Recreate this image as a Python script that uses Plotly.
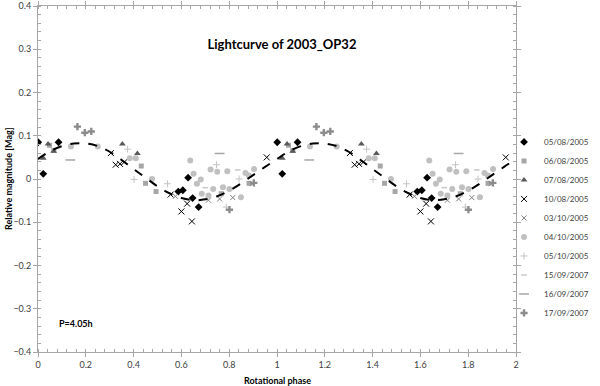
"""Lightcurve of 2003_OP32, folded over two rotational cycles."""

import plotly.graph_objects as go

# Fit curve (one cycle, phase 0..1)
fit_phase = [0.00, 0.05, 0.10, 0.15, 0.20, 0.25, 0.30, 0.35, 0.40, 0.45, 0.50,
             0.55, 0.60, 0.65, 0.70, 0.75, 0.80, 0.85, 0.90, 0.95, 1.00]
fit_mag = [0.046, 0.064, 0.076, 0.082, 0.082, 0.076, 0.063, 0.044, 0.023, 0.003, -0.017,
           -0.033, -0.044, -0.049, -0.047, -0.040, -0.027, -0.010, 0.009, 0.028, 0.046]

# Observations per night (phase 0..1, repeated for the second cycle)
d050805_phase = [0.001, 0.022, 0.086, 0.587, 0.606, 0.628, 0.647, 0.672]
d050805_mag = [0.085, 0.012, 0.085, -0.029, -0.026, 0.003, -0.044, -0.065]

d060805_phase = [0.048, 0.066, 0.432, 0.450, 0.494, 0.767, 0.883]
d060805_mag = [0.078, 0.066, 0.030, -0.010, -0.029, -0.034, -0.010]

d070805_phase = [0.022, 0.042, 0.066, 0.353, 0.416]
d070805_mag = [0.048, 0.081, 0.064, 0.081, 0.059]

d100805_phase = [0.305, 0.325, 0.343, 0.361, 0.555, 0.600, 0.624, 0.644, 0.957]
d100805_mag = [0.060, 0.033, 0.035, 0.039, -0.036, -0.075, -0.057, -0.098, 0.050]

d031005_phase = [0.575, 0.713, 0.760, 0.815, 0.896]
d031005_mag = [-0.040, -0.049, -0.046, -0.043, -0.011]

d041005_phase = [0.138, 0.250, 0.384, 0.409, 0.477, 0.637, 0.651, 0.665, 0.681, 0.685,
                 0.713, 0.722, 0.733, 0.750, 0.774, 0.792, 0.801, 0.849, 0.868, 0.882, 0.904]
d041005_mag = [0.075, 0.075, 0.048, 0.048, 0.000, 0.043, 0.012, -0.011, -0.001, -0.034,
               -0.038, 0.022, -0.023, 0.017, -0.019, 0.018, -0.023, -0.042, 0.014, 0.008, 0.023]

d051005_phase = [0.375, 0.402, 0.542, 0.747, 0.788, 0.841]
d051005_mag = [0.069, -0.001, -0.011, 0.033, -0.065, 0.000]

d150907_phase = [0.700, 0.836]
d150907_mag = [-0.020, 0.021]

d160907_phase = [0.135, 0.760]
d160907_mag = [0.044, 0.059]

d170907_phase = [0.165, 0.196, 0.223, 0.801, 0.903]
d170907_mag = [0.121, 0.107, 0.110, -0.071, -0.009]

SERIES = [
    ("05/08/2005", d050805_phase, d050805_mag, dict(symbol="diamond", size=6, color="#000000")),
    ("06/08/2005", d060805_phase, d060805_mag, dict(symbol="square", size=5, color="#a6a6a6")),
    ("07/08/2005", d070805_phase, d070805_mag, dict(symbol="triangle-up", size=6, color="#595959")),
    ("10/08/2005", d100805_phase, d100805_mag,
     dict(symbol="x-thin", size=6, color="#000000", line=dict(color="#000000", width=1))),
    ("03/10/2005", d031005_phase, d031005_mag,
     dict(symbol="x-thin", size=5, color="#7f7f7f", line=dict(color="#7f7f7f", width=1))),
    ("04/10/2005", d041005_phase, d041005_mag, dict(symbol="circle", size=6, color="#c0c0c0")),
    ("05/10/2005", d051005_phase, d051005_mag,
     dict(symbol="cross-thin", size=5, color="#c4c4c4", line=dict(color="#c4c4c4", width=1))),
    ("15/09/2007", d150907_phase, d150907_mag,
     dict(symbol="line-ew", size=4, color="#c8c8c8", line=dict(color="#c8c8c8", width=1.5))),
    ("16/09/2007", d160907_phase, d160907_mag,
     dict(symbol="line-ew", size=7, color="#a6a6a6", line=dict(color="#a6a6a6", width=1.5))),
    ("17/09/2007", d170907_phase, d170907_mag, dict(symbol="cross", size=6, color="#8c8c8c")),
]


def two_cycles(phase, mag):
    return list(phase) + [p + 1 for p in phase], list(mag) + list(mag)


fig = go.Figure()
for name, phase, mag, marker in SERIES:
    x, y = two_cycles(phase, mag)
    fig.add_scatter(x=x, y=y, mode="markers", name=name, marker=marker)

fx = fit_phase + [p + 1 for p in fit_phase[1:]]
fy = fit_mag + fit_mag[1:]
fig.add_scatter(x=fx, y=fy, mode="lines", showlegend=False,
                line=dict(color="#000000", width=2, dash="dash", shape="spline"))

FONT = "Lato, Open Sans, sans-serif"
axis_font = dict(family=FONT, size=9, color="#404040")
fig.update_xaxes(
    range=[0, 2], dtick=0.2, tickformat="~g", showgrid=False, zeroline=False, automargin=False,
    showline=True, linecolor="#a6a6a6", linewidth=1, mirror="allticks",
    ticks="outside", ticklen=4, tickcolor="#a6a6a6", tickfont=axis_font,
    minor=dict(dtick=0.04, ticks="inside", ticklen=3, tickcolor="#a6a6a6"),
)
fig.update_yaxes(
    range=[-0.4, 0.4], dtick=0.1, tickformat="~g", showgrid=False, zeroline=False, automargin=False,
    showline=True, linecolor="#a6a6a6", linewidth=1, mirror="allticks",
    ticks="outside", ticklen=4, tickcolor="#a6a6a6", tickfont=axis_font,
    minor=dict(dtick=0.02, ticks="inside", ticklen=3, tickcolor="#a6a6a6"),
)

label_font = dict(family=FONT, size=9, color="#000000")
fig.add_annotation(text="<b>Rotational phase</b>", x=0.5, y=0, xref="paper", yref="paper",
                   yanchor="middle", yshift=-28, showarrow=False, font=label_font)
fig.add_annotation(text="<b>Relative magnitude [Mag]</b>", x=0, y=0.5, xref="paper", yref="paper",
                   xanchor="center", xshift=-30, textangle=-90, showarrow=False, font=label_font)
fig.add_annotation(text="<b>P=4.05h</b>", x=0.08, y=-0.333, xref="x", yref="y", showarrow=False,
                   xanchor="left", font=label_font)

fig.update_layout(
    width=600, height=386,
    paper_bgcolor="#ffffff", plot_bgcolor="#ffffff",
    margin=dict(l=38, r=74, t=6, b=34),
    title=dict(text="<b>Lightcurve of 2003_OP32</b>", x=0.47, xanchor="center", y=0.885, yanchor="middle",
               font=dict(family=FONT, size=13, color="#000000")),
    legend=dict(x=0.975, xanchor="left", y=0.36, yanchor="middle", tracegroupgap=0,
                font=dict(family=FONT, size=8, color="#404040"),
                itemwidth=30, bgcolor="rgba(0,0,0,0)"),
)

fig.write_html("out.html", config={"displayModeBar": False},
               post_script="document.body.style.margin='0';")
